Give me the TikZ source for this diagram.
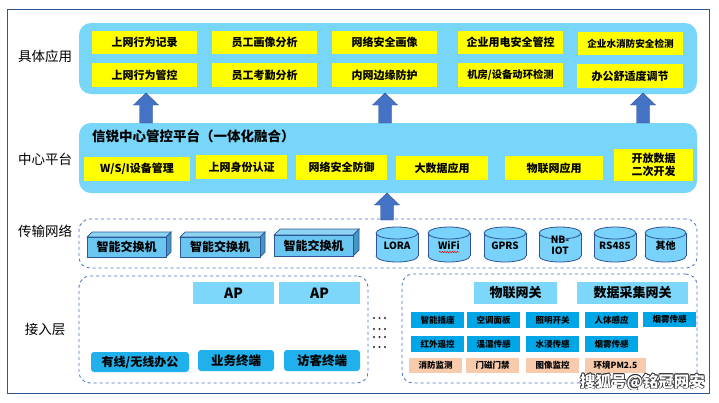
\documentclass[tikz,border=0pt]{standalone}
\usepackage{fontspec}
\setmainfont{Noto Sans CJK SC}
\usetikzlibrary{shapes.geometric,decorations.pathmorphing}
\definecolor{frameblue}{RGB}{47,85,151}
\definecolor{panelblue}{RGB}{120,214,250}
\definecolor{ylw}{RGB}{255,255,0}
\definecolor{arrowblue}{RGB}{68,114,196}
\definecolor{dashblue}{RGB}{68,114,196}
\definecolor{apblue}{RGB}{125,215,250}
\definecolor{termblue}{RGB}{32,176,236}
\definecolor{sensblue}{RGB}{0,166,230}
\definecolor{peach}{RGB}{248,203,173}
\definecolor{swfront}{RGB}{105,198,240}
\definecolor{swtop}{RGB}{140,212,242}
\definecolor{swside}{RGB}{70,150,195}
\definecolor{cylfill}{RGB}{120,210,250}
\newcommand\mybox[7]{%
  \pgfmathsetmacro\bw{#5-#3}\pgfmathsetmacro\bh{#6-#4}%
  \node[#1,minimum width=\bw pt,minimum height=\bh pt] (#2) at ({(#3+#5)/2},{(#4+#6)/2}) {#7};}
\newcommand\blockarrow[3]{%
  \fill[arrowblue,draw=arrowblue!75!black,line width=0.4pt] ({#1-6.5},#3) -- ({#1-6.5},{#2+12}) -- ({#1-12.5},{#2+12}) -- (#1,#2) -- ({#1+12.5},{#2+12}) -- ({#1+6.5},{#2+12}) -- ({#1+6.5},#3) -- cycle;}
\newcommand\cylbox[6]{%
  \pgfmathsetmacro\cw{#3-#2}\pgfmathsetmacro\cx{(#2+#3)/2}%
  \pgfmathsetmacro\yT{#4+6}\pgfmathsetmacro\yB{#5-6}%
  \node[cylell,minimum width=\cw pt] at (\cx,\yB) {};
  \fill[cylfill] (#2,\yT) rectangle (#3,\yB);
  \draw[frameblue,line width=0.8pt] (#2,\yT) -- (#2,\yB) (#3,\yT) -- (#3,\yB);
  \node[cylell,minimum width=\cw pt] at (\cx,\yT) {};
  \node[cyltext] (#1) at (\cx,{(\yT+\yB)/2+1}) {#6};}
\newcommand\swbox[6]{% name x1 y1 x2 y2 depth
  \fill[swtop,draw=frameblue,line width=0.7pt] (#2,#3) -- ({#2+#6},{#3-#6}) -- ({#4+#6},{#3-#6}) -- (#4,#3) -- cycle;
  \fill[swside,draw=frameblue,line width=0.7pt] (#4,#3) -- ({#4+#6},{#3-#6}) -- ({#4+#6},{#5-#6}) -- (#4,#5) -- cycle;
  \mybox{swf}{#1}{#2}{#3}{#4}{#5}{智能交换机}}
\begin{document}
\begin{tikzpicture}[x=1pt,y=-1pt,
  every node/.style={inner sep=0pt,align=center},
  panel/.style={fill=panelblue,rounded corners=12pt},
  dpanel/.style={draw=dashblue,dashed,line width=0.8pt,rounded corners=11pt},
  ybox/.style={fill=ylw,font=\bfseries\fontsize{11}{13}\selectfont},
  lbl/.style={font=\fontsize{13.5}{15}\selectfont},
  swf/.style={fill=swfront,draw=frameblue,line width=0.7pt,font=\bfseries\fontsize{12}{14}\selectfont},
  cylell/.style={ellipse,draw=frameblue,fill=cylfill,line width=0.8pt,minimum height=12pt},
  cyltext/.style={font=\bfseries\fontsize{10}{11.5}\selectfont},
  apbox/.style={fill=apblue,font=\bfseries\fontsize{14}{16}\selectfont},
  term/.style={fill=termblue,rounded corners=3pt,font=\bfseries\fontsize{12.5}{14}\selectfont},
  gw/.style={fill=apblue,font=\bfseries\fontsize{13}{15}\selectfont},
  sens/.style={fill=sensblue,font=\bfseries\fontsize{8.5}{10}\selectfont},
  pch/.style={fill=peach,font=\bfseries\fontsize{8.5}{10}\selectfont}]
\useasboundingbox (0,0) rectangle (719,402);
\fill[white] (0,0) rectangle (719,402);
\draw[frameblue,line width=1pt] (7,9) rectangle (709,393);
% left labels
\node[lbl] (l1) at (45,56) {具体应用};
\node[lbl] (l2) at (45,159) {中心平台};
\node[lbl] (l3) at (45,231) {传输网络};
\node[lbl] (l4) at (45,329) {接入层};
% panels
\mybox{panel}{app}{79}{23}{697}{94}{}
\mybox{panel}{plat}{79}{123}{697}{193}{}
\mybox{dpanel}{trans}{79}{219}{697}{268}{}
\mybox{dpanel}{accL}{79}{276}{368}{383}{}
\mybox{dpanel}{accR}{402}{274}{697}{383}{}
% application boxes
\mybox{ybox}{a11}{92}{31}{197}{54}{上网行为记录}
\mybox{ybox}{a12}{212}{31}{317}{54}{员工画像分析}
\mybox{ybox}{a13}{332}{31}{437}{54}{网络安全画像}
\mybox{ybox}{a14}{458}{31}{563}{54}{企业用电安全管控}
\mybox{ybox,font=\bfseries\fontsize{9.6}{11}\selectfont}{a15}{578}{32}{683}{55}{企业水消防安全检测}
\mybox{ybox}{a21}{92}{63}{197}{87}{上网行为管控}
\mybox{ybox}{a22}{212}{63}{317}{87}{员工考勤分析}
\mybox{ybox}{a23}{332}{63}{437}{87}{内网边缘防护}
\mybox{ybox,font=\bfseries\fontsize{10.3}{12}\selectfont}{a24}{458}{63}{563}{87}{机房/设备动环检测}
\mybox{ybox}{a25}{577}{64}{683}{88}{办公舒适度调节}
% arrows
\blockarrow{146}{93}{123}
\blockarrow{385}{93}{123}
\blockarrow{643}{93}{123}
\blockarrow{387}{193}{220}
% platform
\node[anchor=west,font=\bfseries\fontsize{13.5}{15}\selectfont] (ptitle) at (92,136) {信锐中心管控平台（一体化融合）};
\mybox{ybox}{p1}{84}{157}{190}{181}{W/S/I设备管理}
\mybox{ybox}{p2}{196}{155}{287}{179}{上网身份认证}
\mybox{ybox}{p3}{296}{155}{387}{180}{网络安全防御}
\mybox{ybox}{p4}{396}{156}{488}{180}{大数据应用}
\mybox{ybox}{p5}{505}{156}{603}{180}{物联网应用}
\mybox{ybox,font=\bfseries\fontsize{11}{13.5}\selectfont}{p6}{614}{149}{693}{181}{开放数据\\二次开发}
% switches
\swbox{sw1}{87}{237}{166}{257}{5}
\swbox{sw2}{180}{237}{260}{257}{5}
\swbox{sw3}{274}{235}{353}{256}{6}
% cylinders
\cylbox{c1}{376}{418}{227}{262}{LORA}
\cylbox{c2}{428}{470}{227}{262}{WiFi}
\cylbox{c3}{484}{526}{227}{262}{GPRS}
\cylbox{c4}{539}{581}{227}{262}{NB-\\IOT}
\cylbox{c5}{594}{636}{227}{262}{RS485}
\cylbox{c6}{645}{686}{227}{262}{其他}
\draw[red,line width=0.5pt,decorate,decoration={snake,amplitude=0.7pt,segment length=2.5pt}] (439,252) -- (459,252);
% access left
\mybox{apbox}{ap1}{193}{282}{274}{304}{AP}
\mybox{apbox}{ap2}{279}{282}{360}{304}{AP}
\mybox{term,font=\bfseries\fontsize{12}{14}\selectfont}{t1}{91}{352}{189}{372}{有线/无线办公}
\mybox{term}{t2}{198}{350}{274}{371}{业务终端}
\mybox{term}{t3}{284}{350}{360}{371}{访客终端}
% dots
\foreach \yy in {318,329,337,347}{\foreach \xx in {374,379.5,385}{\fill[black!85] (\xx,\yy) circle[radius=1.2pt];}}
% access right
\mybox{gw}{g1}{474}{282}{557}{304}{物联网关}
\mybox{gw}{g2}{577}{282}{688}{304}{数据采集网关}
\mybox{sens}{s11}{411}{312}{464}{328}{智能插座}
\mybox{sens}{s12}{467}{312}{520}{328}{空调面板}
\mybox{sens}{s13}{526}{312}{579}{328}{照明开关}
\mybox{sens}{s14}{585}{312}{638}{328}{人体感应}
\mybox{sens}{s15}{643}{312}{696}{327}{烟雾传感}
\mybox{sens}{s21}{411}{336}{464}{352}{红外遥控}
\mybox{sens}{s22}{467}{336}{520}{352}{温湿传感}
\mybox{sens}{s23}{526}{336}{579}{352}{水浸传感}
\mybox{sens}{s24}{585}{336}{638}{352}{烟雾传感}
\mybox{pch}{s31}{409}{358}{462}{373}{消防监测}
\mybox{pch}{s32}{466}{358}{519}{373}{门磁门禁}
\mybox{pch}{s33}{526}{358}{579}{373}{图像监控}
\mybox{pch}{s34}{585}{358}{646}{373}{环境PM2.5}
% watermark
\foreach \dx/\dy in {-0.7/0,0.7/0,0/-0.7,0/0.7,-0.5/-0.5,0.5/0.5,-0.5/0.5,0.5/-0.5}{
  \node[anchor=east,font=\bfseries\fontsize{15.5}{17}\selectfont,text=black!80] at ({705+\dx},{382+\dy}) {搜狐号@铭冠网安};}
\node[anchor=east,font=\bfseries\fontsize{15.5}{17}\selectfont,text=white] (wm) at (705,382) {搜狐号@铭冠网安};
\end{tikzpicture}
\end{document}
